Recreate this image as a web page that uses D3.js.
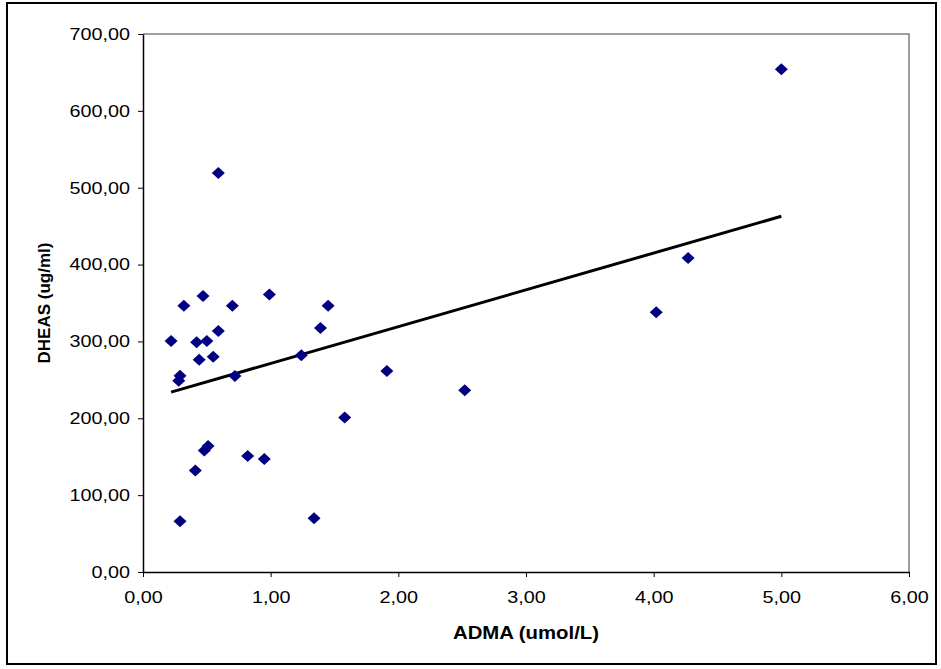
<!DOCTYPE html>
<html>
<head>
<meta charset="utf-8">
<script src="https://cdn.jsdelivr.net/npm/d3@7"></script>
<style>
  body { margin: 0; background: #fff; }
  text { font-family: "Liberation Sans", Arial, sans-serif; }
</style>
</head>
<body>
<div id="chart"></div>
<script>
// ADMA (umol/L) vs DHEAS (ug/ml)
var adma  = [0.22, 0.32, 0.47, 0.70, 0.99, 1.45, 1.39, 0.59, 0.42, 0.50,
             0.44, 0.55, 1.24, 0.72, 0.29, 0.28, 1.58, 0.51, 0.48, 0.82,
             0.95, 0.41, 0.29, 1.34, 1.91, 2.52, 4.02, 4.27, 5.00, 0.59];
var dheas = [300.5, 346.5, 359, 346.5, 361, 346.5, 317.5, 313.5, 299, 300.5,
             276, 280, 282, 255, 255.5, 249, 201, 164, 158, 151,
             147, 132, 66, 70, 261.5, 236.5, 338, 408.5, 654, 519];

var xTicks = [0, 1, 2, 3, 4, 5, 6];
var yTicks = [0, 100, 200, 300, 400, 500, 600, 700];

var W = 941, H = 669;
var margin = { top: 34, right: 32, bottom: 97, left: 143 };
var width = W - margin.left - margin.right;
var height = H - margin.top - margin.bottom;

var fmt = d3.formatLocale({ decimal: ",", thousands: ".", grouping: [3], currency: ["", ""] }).format(".2f");

var svg = d3.select("#chart").append("svg")
  .attr("width", W)
  .attr("height", H);

// outer frame
svg.append("rect")
  .attr("x", 7).attr("y", 3)
  .attr("width", 929).attr("height", 661)
  .attr("fill", "#fff")
  .attr("stroke", "#000")
  .attr("stroke-width", 2);

var g = svg.append("g")
  .attr("transform", "translate(" + margin.left + "," + margin.top + ")");

var x = d3.scaleLinear().domain([0, 6]).range([0, width]);
var y = d3.scaleLinear().domain([0, 700]).range([height, 0]);

// plot area border (top / right in gray)
g.append("path")
  .attr("d", "M0,0H" + width + "V" + height)
  .attr("fill", "none")
  .attr("stroke", "#808080")
  .attr("stroke-width", 1.5);

var xAxis = g.append("g")
  .attr("transform", "translate(0," + height + ")")
  .call(d3.axisBottom(x).tickValues(xTicks).tickFormat(fmt).tickSize(5).tickSizeOuter(0));

var yAxis = g.append("g")
  .call(d3.axisLeft(y).tickValues(yTicks).tickFormat(fmt).tickSize(5).tickSizeOuter(0));

[xAxis, yAxis].forEach(function(a) {
  a.select(".domain").attr("stroke", "#000").attr("stroke-width", 1.5);
  a.selectAll(".tick line").attr("stroke", "#000");
  a.selectAll(".tick text")
    .attr("fill", "#000")
    .style("font-size", "16.5px")
    .style("font-family", "'Liberation Sans', Arial, sans-serif");
});
// Excel-style slightly wide text
xAxis.selectAll(".tick text")
  .attr("y", 0).attr("dy", 0)
  .attr("transform", "translate(0,31) scale(1.2,1)");
yAxis.selectAll(".tick text")
  .attr("x", 0)
  .attr("transform", "translate(-13,0) scale(1.2,1)");

// linear trendline (least squares)
var n = adma.length;
var mx = d3.mean(adma), my = d3.mean(dheas);
var sxy = 0, sxx = 0;
for (var i = 0; i < n; i++) {
  sxy += (adma[i] - mx) * (dheas[i] - my);
  sxx += (adma[i] - mx) * (adma[i] - mx);
}
var slope = sxy / sxx, icpt = my - slope * mx;
var x0 = d3.min(adma), x1 = d3.max(adma);

g.append("line")
  .attr("x1", x(x0)).attr("y1", y(icpt + slope * x0))
  .attr("x2", x(x1)).attr("y2", y(icpt + slope * x1))
  .attr("stroke", "#000")
  .attr("stroke-width", 3);

// points
var diamond = "M0,-6L6.5,0L0,6L-6.5,0Z";
g.selectAll(".pt")
  .data(adma)
  .enter().append("path")
  .attr("class", "pt")
  .attr("d", diamond)
  .attr("transform", function(d, i) { return "translate(" + x(d) + "," + y(dheas[i]) + ")"; })
  .attr("fill", "#000080");

// axis titles
svg.append("text")
  .attr("transform", "translate(" + (margin.left + width / 2) + ",639) scale(1.13,1)")
  .attr("text-anchor", "middle")
  .style("font-size", "18px")
  .style("font-weight", "bold")
  .text("ADMA (umol/L)");

svg.append("text")
  .attr("transform", "translate(50," + (margin.top + height / 2) + ") rotate(-90)")
  .attr("text-anchor", "middle")
  .style("font-size", "17px")
  .style("font-weight", "bold")
  .text("DHEAS (ug/ml)");
</script>
</body>
</html>
